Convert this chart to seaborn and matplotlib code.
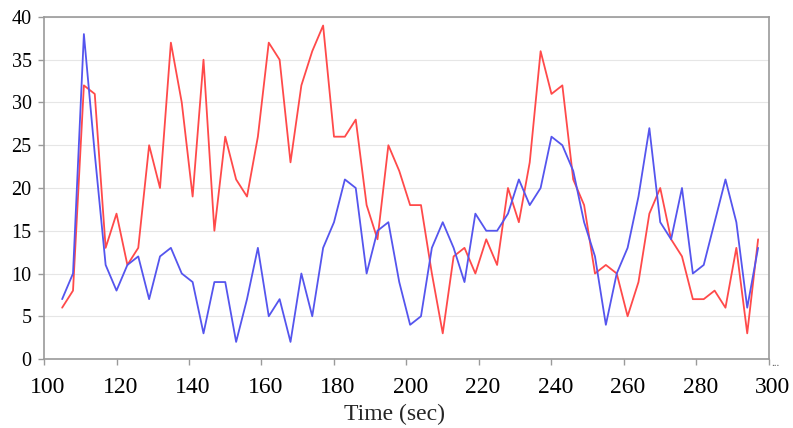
import numpy as np
import pandas as pd
import matplotlib
matplotlib.use("Agg")
import matplotlib.pyplot as plt
import matplotlib.transforms as mtransforms
import seaborn as sns

# samples every 3 s, from 105 s to 297 s
time_sec = list(range(105, 298, 3))

red_series = [6, 8, 32, 31, 13, 17, 11, 13, 25, 20, 37, 30, 19, 35, 15, 26,
              21, 19, 26, 37, 35, 23, 32, 36, 39, 26, 26, 28, 18, 14, 25, 22,
              18, 18, 10, 3, 12, 13, 10, 14, 11, 20, 16, 23, 36, 31, 32, 21,
              18, 10, 11, 10, 5, 9, 17, 20, 14, 12, 7, 7, 8, 6, 13, 3, 14]

blue_series = [7, 10, 38, 24, 11, 8, 11, 12, 7, 12, 13, 10, 9, 3, 9, 9,
               2, 7, 13, 5, 7, 2, 10, 5, 13, 16, 21, 20, 10, 15, 16, 9,
               4, 5, 13, 16, 13, 9, 17, 15, 15, 17, 21, 18, 20, 26, 25, 22,
               16, 12, 4, 10, 13, 19, 27, 16, 14, 20, 10, 11, 16, 21, 16, 6, 13]

df = pd.DataFrame({
    "time": time_sec * 2,
    "value": red_series + blue_series,
    "series": ["red"] * len(red_series) + ["blue"] * len(blue_series),
})

sns.set_style("white")
plt.rcParams["font.family"] = ["Liberation Serif", "DejaVu Serif"]

fig = plt.figure(figsize=(7.93, 4.28), dpi=100)
ax = fig.add_axes([0.0555, 0.1612, 0.9142, 0.7991])

sns.lineplot(data=df, x="time", y="value", hue="series",
             palette={"red": "#ff4a4a", "blue": "#5555ee"},
             linewidth=1.3, legend=False, ax=ax)

ax.set_xlim(100, 300)
ax.set_ylim(0, 40)
ax.set_xticks(range(100, 301, 20))
ax.set_yticks(range(0, 41, 5))
ax.yaxis.grid(True, color="#e6e6e6", linewidth=0.8)
ax.set_axisbelow(True)

for side in ["left", "bottom", "right", "top"]:
    ax.spines[side].set_color("#9a9a9a")
    ax.spines[side].set_linewidth(1.2)

ax.tick_params(axis="both", which="both", length=4, width=1,
               color="#9a9a9a", labelcolor="black", left=True, bottom=True)
ax.tick_params(axis="x", labelsize=17, pad=9)
ax.tick_params(axis="y", labelsize=14.5, pad=5)

# x tick labels sit a little right of their ticks in the original
shift = mtransforms.ScaledTranslation(4 / 100, 0, fig.dpi_scale_trans)
for lbl in ax.get_xticklabels():
    lbl.set_transform(lbl.get_transform() + shift)

ax.set_xlabel("Time (sec)", fontsize=17)
ax.xaxis.set_label_coords(0.483, -0.132)
ax.set_ylabel("")
ax.text(1.003, -0.012, "...", transform=ax.transAxes, fontsize=8,
        color="#555555", ha="left", va="center")

plt.savefig("out.png", dpi=100)
plt.close()
